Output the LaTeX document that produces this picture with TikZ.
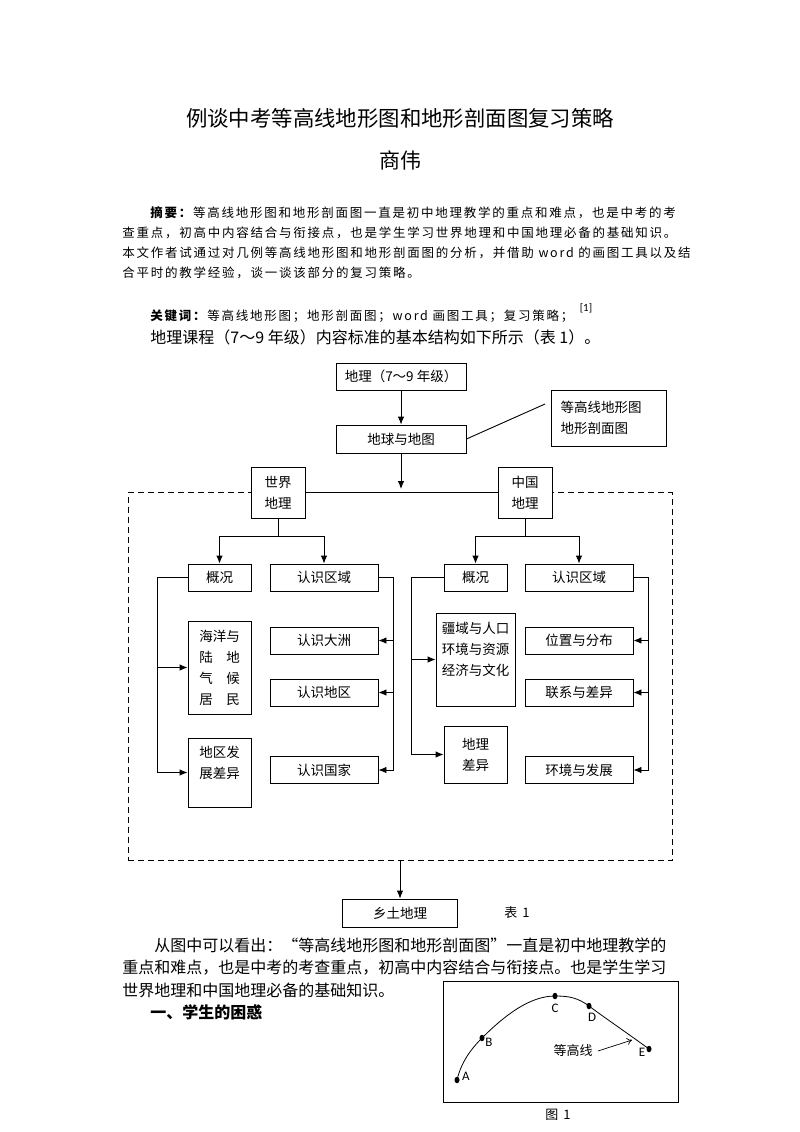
\documentclass[tikz,border=0pt]{standalone}
\usepackage{fontspec}
\setmainfont{Noto Sans CJK SC}
\newfontfamily\abfont[LetterSpace=14]{Noto Sans CJK SC}
\newfontfamily\lbfont{Carlito}
\usetikzlibrary{arrows.meta,positioning,shapes.geometric}

\begin{document}
\begin{tikzpicture}[x=1pt,y=-1pt,>={Latex[length=8pt,width=6.5pt]},line width=0.9pt,
            box/.style={draw,fill=white,inner sep=0pt,align=center,
                font=\fontsize{13.5}{21}\selectfont}]
        \tikzstyle{txt}=[inner sep=0pt,anchor=west,font=\fontsize{16}{16}\selectfont]
        \tikzstyle{abs}=[inner sep=0pt,anchor=west,font=\abfont\fontsize{12.5}{12.5}\selectfont]
        \tikzstyle{wbox}=[box,minimum width=108pt,minimum height=27pt]
        \tikzstyle{nbox}=[box,minimum width=63pt,minimum height=27pt]
        \tikzstyle{dot}=[ellipse,fill=black,inner sep=0pt,minimum width=5pt,minimum height=6.5pt]
        \tikzstyle{lbl}=[inner sep=0pt,font=\lbfont\fontsize{13}{13}\selectfont]
        \tikzstyle{captxt}=[inner sep=0pt,font=\fontsize{13}{13}\selectfont]

        \useasboundingbox (0,0) rectangle (800,1132);
        \fill[white] (0,0) rectangle (800,1132);

        % heading and abstract
        \node[inner sep=0pt,font=\fontsize{21.4}{21.4}\selectfont] (t1) at (400,118) {例谈中考等高线地形图和地形剖面图复习策略};
        \node[inner sep=0pt,font=\fontsize{21}{21}\selectfont] (au) at (400,160) {商伟};
        \node[abs] (ab1) at (150,213) {\textbf{摘要：}等高线地形图和地形剖面图一直是初中地理教学的重点和难点，也是中考的考};
        \node[abs] (ab2) at (122,233) {查重点，初高中内容结合与衔接点，也是学生学习世界地理和中国地理必备的基础知识。};
        \node[abs] (ab3) at (122,253) {本文作者试通过对几例等高线地形图和地形剖面图的分析，并借助 word 的画图工具以及结};
        \node[abs] (ab4) at (122,273) {合平时的教学经验，谈一谈该部分的复习策略。};
        \node[abs] (kw) at (150,316) {\textbf{关键词：}等高线地形图；地形剖面图；word 画图工具；复习策略；};
        \node[inner sep=0pt,font=\lbfont\fontsize{11}{11}\selectfont] (ref) at (586,308) {[1]};
        \node[txt] (p0) at (150,337) {地理课程（7～9 年级）内容标准的基本结构如下所示（表 1）。};

        % table 1
        \node[draw,dash pattern=on 6pt off 4pt,minimum width=544pt,minimum height=368pt] (frame) at (400,676.5) {};

        \node[box,minimum width=130pt,minimum height=27pt] (top) at (401,376.5) {地理（7～9 年级）};
        \node[box,minimum width=130pt,minimum height=28pt] (dq) at (401,439) {地球与地图};
        \node[box,minimum width=115pt,minimum height=56pt,align=left,text width=96pt] (dx) at (608.5,418) {等高线地形图\\地形剖面图};
        \node[box,minimum width=54pt,minimum height=51pt] (sj) at (278,492.5) {世界\\地理};
        \node[box,minimum width=54pt,minimum height=51pt] (zg) at (525,492.5) {中国\\地理};

        \node[nbox] (gk1) at (219.5,577.5) {概况};
        \node[wbox] (rs1) at (324,577.5) {认识区域};
        \node[box,minimum width=63pt,minimum height=93pt] (hy) at (219.5,667.5) {海洋与\\陆　地\\气　候\\居　民};
        \node[box,minimum width=63pt,minimum height=69pt] (fz) at (219.5,772.5) {地区发\\展差异\\~};
        \node[wbox] (rdz) at (324,640.5) {认识大洲};
        \node[wbox] (rdq) at (324,692.5) {认识地区};
        \node[wbox] (rgj) at (324,770) {认识国家};

        \node[nbox] (gk2) at (475.5,577.5) {概况};
        \node[wbox] (rs2) at (579,577.5) {认识区域};
        \node[box,minimum width=79pt,minimum height=93pt] (jy) at (475.5,659.5) {疆域与人口\\环境与资源\\经济与文化\\~};
        \node[box,minimum width=63pt,minimum height=57pt] (cy) at (475.5,754.5) {地理\\差异};
        \node[wbox] (wz) at (579,640.5) {位置与分布};
        \node[wbox] (lx) at (579,692.5) {联系与差异};
        \node[wbox] (hj) at (579,770) {环境与发展};

        \node[box,minimum width=115pt,minimum height=28pt] (xt) at (400,913) {乡土地理};
        \node[captxt] (cap1) at (517,913) {表\hspace{5pt}1};

        \coordinate (mid) at (401,489);
        \coordinate (dxend) at (545,404);

        \draw[->] (top) -- (dq);
        \draw[->] (dq) -- (mid);
        \draw (dq.east) -- (dxend);
        \draw (sj.east) -- (zg.west);
        \draw[->] (frame.south) -- (xt.north);

        \draw[->] (sj.south) -- ++(0,18) -| (gk1.north);
        \draw[->] (sj.south) -- ++(0,18) -| (rs1.north);
        \draw[->] (zg.south) -- ++(0,18) -| (gk2.north);
        \draw[->] (zg.south) -- ++(0,18) -| (rs2.north);

        \draw[->] (gk1.west) -- ++(-30,0) |- (hy.west);
        \draw[->] (gk1.west) -- ++(-30,0) |- (fz.west);
        \draw[->] (rs1.east) -- ++(15,0) |- (rdz.east);
        \draw[->] (rs1.east) -- ++(15,0) |- (rdq.east);
        \draw[->] (rs1.east) -- ++(15,0) |- (rgj.east);

        \draw[->] (gk2.west) -- ++(-32,0) |- (jy.west);
        \draw[->] (gk2.west) -- ++(-32,0) |- (cy.west);
        \draw[->] (rs2.east) -- ++(15,0) |- (wz.east);
        \draw[->] (rs2.east) -- ++(15,0) |- (lx.east);
        \draw[->] (rs2.east) -- ++(15,0) |- (hj.east);

        % body text
        \node[txt] (p1) at (154,945) {从图中可以看出：“等高线地形图和地形剖面图”一直是初中地理教学的};
        \node[txt] (p2) at (122,968) {重点和难点，也是中考的考查重点，初高中内容结合与衔接点。也是学生学习};
        \node[txt] (p3) at (122,990) {世界地理和中国地理必备的基础知识。};
        \node[txt] (h1) at (150,1012) {\textbf{一、学生的困惑}};

        % figure 1
        \node[draw,inner sep=0pt,minimum width=235pt,minimum height=121pt] (fig) at (560.5,1042) {};
        \node[dot] (A) at (457,1080) {};
        \node[dot] (B) at (482,1038) {};
        \node[dot] (C) at (555,996) {};
        \node[dot] (D) at (589,1006) {};
        \node[dot] (E) at (649,1049) {};
        \draw[line width=0.8pt] (A.center) .. controls (461,1063) and (470,1050) .. (B.center)
            .. controls (505,1015) and (530,996) .. (C.center)
            .. controls (570,996) and (578,998) .. (D.center)
            .. controls (605,1018) and (630,1035) .. (E.center);
        \node[lbl] (la) at (466,1076) {A};
        \node[lbl] (lb) at (489,1042) {B};
        \node[lbl] (lc) at (555,1008) {C};
        \node[lbl] (ld) at (592,1017) {D};
        \node[lbl] (le) at (642,1052) {E};
        \node[captxt] (ct) at (573,1051) {等高线};
        \coordinate (ctend) at (632,1040);
        \draw[-{To[length=5pt,width=7pt]},line width=0.7pt] ([xshift=5pt]ct.east) -- (ctend);
        \node[captxt] (cap2) at (558,1115) {图\hspace{5pt}1};
\end{tikzpicture}
\end{document}
